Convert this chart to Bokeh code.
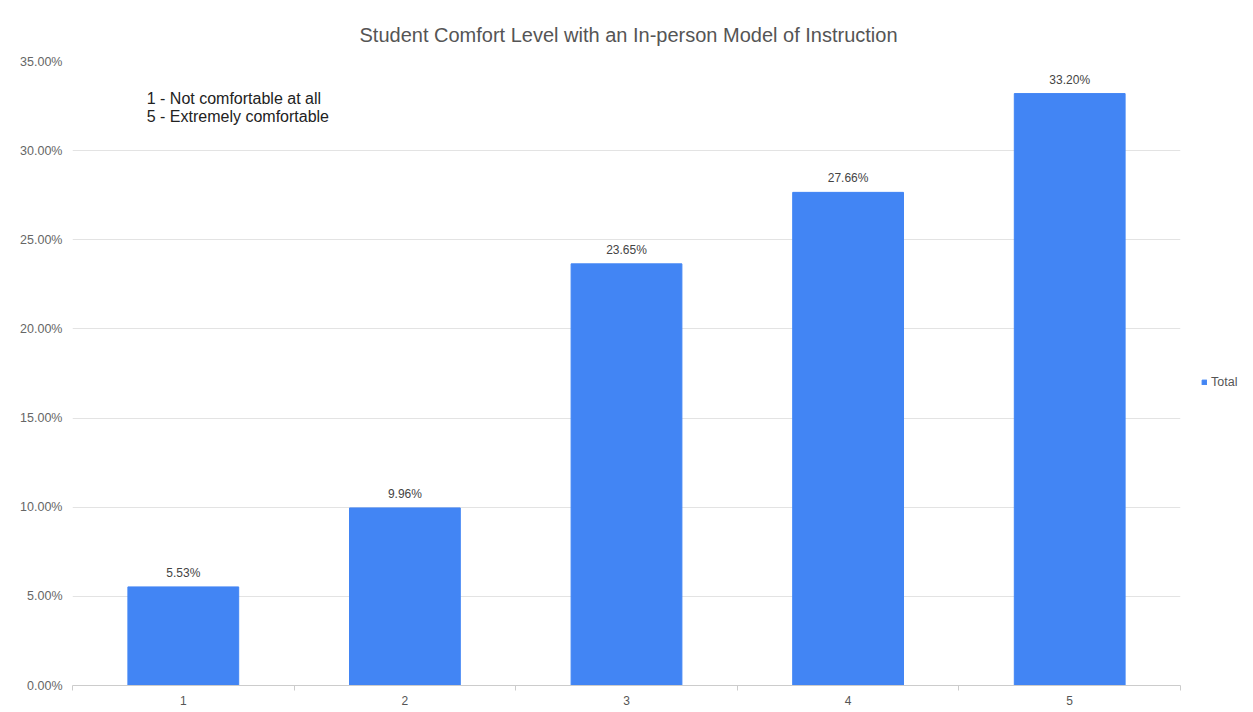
from bokeh.plotting import figure
from bokeh.models import (ColumnDataSource, Range1d, FixedTicker, PrintfTickFormatter,
                          Legend, LegendItem, Label)
from bokeh.core.properties import value
from bokeh.embed import file_html
from bokeh.resources import INLINE

categories = [1, 2, 3, 4, 5]
category_labels = ["1", "2", "3", "4", "5"]
totals = [5.53, 9.96, 23.65, 27.66, 33.20]
y_ticks = [0, 5, 10, 15, 20, 25, 30, 35]
title_text = "Student Comfort Level with an  In-person Model of Instruction"
note_lines = ["1 - Not comfortable at all", "5 - Extremely comfortable"]

FONT = "Liberation Sans"
BLUE = "#4285F4"

src = ColumnDataSource(dict(
    x=categories,
    top=totals,
    lbl=[f"{v:.2f}%" for v in totals],
))

p = figure(frame_width=1108, frame_height=624, output_backend="svg", toolbar_location=None,
           x_range=Range1d(0.5, 5.5), y_range=Range1d(0, 35),
           min_border_left=72, min_border_right=65, min_border_top=61,
           min_border_bottom=19)
p.outline_line_color = None

p.title.text = title_text
p.title.align = "left"
p.title.offset = 287
p.title.text_font = FONT
p.title.text_font_size = "20px"
p.title.text_font_style = "normal"
p.title.text_color = "#555555"
p.title.standoff = 32

bars = p.vbar(x="x", top="top", width=0.5, source=src, fill_color=BLUE,
              line_color=BLUE)

p.text(x="x", y="top", text="lbl", source=src, text_align="center",
       text_baseline="bottom", y_offset=-7, text_font=value(FONT),
       text_font_size="12px", text_color="#444444")

# axes
p.yaxis.ticker = FixedTicker(ticks=y_ticks)
p.yaxis.formatter = PrintfTickFormatter(format="%.2f%%")
p.yaxis.axis_line_color = None
p.yaxis.major_tick_line_color = None
p.yaxis.major_tick_out = 0
p.yaxis.major_tick_in = 0
p.yaxis.minor_tick_line_color = None
p.yaxis.minor_tick_out = 0
p.yaxis.major_label_standoff = 10
p.yaxis.major_label_text_font = FONT
p.yaxis.major_label_text_font_size = "12.5px"
p.yaxis.major_label_text_color = "#666666"

p.xaxis.ticker = FixedTicker(ticks=categories,
                             minor_ticks=[c - 0.5 for c in categories] + [categories[-1] + 0.5])
p.xaxis.major_label_overrides = {c: l for c, l in zip(categories, category_labels)}
p.xaxis.axis_line_color = "#cccccc"
p.xaxis.major_tick_line_color = None
p.xaxis.major_tick_out = 0
p.xaxis.major_tick_in = 0
p.xaxis.minor_tick_line_color = "#cccccc"
p.xaxis.minor_tick_out = 5
p.xaxis.minor_tick_in = 0
p.xaxis.major_label_standoff = 5
p.xaxis.major_label_text_font = FONT
p.xaxis.major_label_text_font_size = "12px"
p.xaxis.major_label_text_color = "#555555"

p.xgrid.grid_line_color = None
p.ygrid.grid_line_color = "#e3e3e3"

# note text
for i, line in enumerate(note_lines):
    p.add_layout(Label(x=0.835, y=33.4, y_offset=-18 * i, text=line,
                       text_font=FONT, text_font_size="16px",
                       text_color="#222222", text_baseline="top"))

legend = Legend(items=[LegendItem(label="Total", renderers=[bars])],
                location=(21, 296), glyph_width=6, glyph_height=6,
                label_standoff=4, padding=2, margin=0, spacing=0,
                border_line_color=None, background_fill_alpha=0,
                label_text_font=FONT, label_text_font_size="12.5px",
                label_text_color="#555555")
p.add_layout(legend, "right")

open("out.html", "w").write(file_html(p, INLINE))
